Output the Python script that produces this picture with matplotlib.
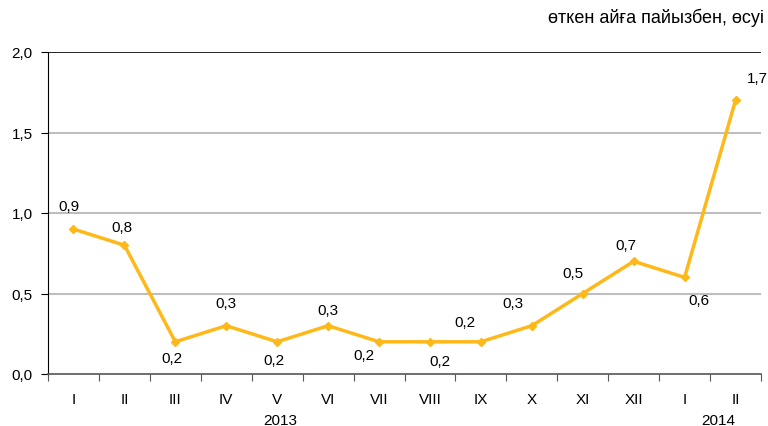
import numpy as np
import matplotlib.pyplot as plt

plt.rcParams['font.family'] = ['Liberation Sans', 'DejaVu Sans']

months = ["I", "II", "III", "IV", "V", "VI", "VII", "VIII", "IX", "X", "XI", "XII", "I", "II"]
values = [0.9, 0.8, 0.2, 0.3, 0.2, 0.3, 0.2, 0.2, 0.2, 0.3, 0.5, 0.7, 0.6, 1.7]
labels = ["0,9", "0,8", "0,2", "0,3", "0,2", "0,3", "0,2", "0,2", "0,2", "0,3", "0,5", "0,7", "0,6", "1,7"]
# label offsets in pixels (dx, dy) from the point
offsets = [(-5, 23), (-2, 18), (-3, -16), (0, 23), (-3, -18), (0, 16), (-15, -13), (10, -19),
           (-16, 20), (-19, 23), (-10, 20), (-8, 16), (14, -23), (22, 22)]
color = "#FFB819"

fig = plt.figure(figsize=(7.68, 4.27), dpi=100)
ax = fig.add_axes([48 / 768, 1 - 375 / 427, 713 / 768, 322 / 427])

x = np.arange(len(months))
ax.plot(x, values, color=color, lw=2.5, marker="D", ms=4.5, zorder=3)

for xi, v, lab, (dx, dy) in zip(x, values, labels, offsets):
    ax.annotate(lab, (xi, v), xytext=(dx * 0.72, dy * 0.72), textcoords="offset points",
                ha="center", va="center", fontsize=11, color="#000000")

ax.set_xlim(-0.5, len(months) - 0.5)
ax.set_ylim(0, 2.0)
ax.set_yticks([0, 0.5, 1.0, 1.5, 2.0])
ax.set_yticklabels(["0,0", "0,5", "1,0", "1,5", "2,0"], fontsize=11)
for yv in [0.5, 1.0, 1.5]:
    ax.axhline(yv, color="#BEBEBE", lw=1.5, zorder=1)
ax.axhline(2.0, color="#000000", lw=1.2, zorder=1)

ax.set_xticks(np.arange(-0.5, len(months), 1.0))
ax.set_xticklabels([])
ax.set_xticks(x, minor=True)
ax.set_xticklabels(months, minor=True, fontsize=11)
ax.tick_params(axis="x", which="major", length=5, direction="out", color="#555555")
ax.tick_params(axis="x", which="minor", length=0, pad=13)
ax.tick_params(axis="y", length=5, direction="out", pad=6)

for s in ["top", "right"]:
    ax.spines[s].set_visible(False)
ax.spines["left"].set_color("#000000")
ax.spines["bottom"].set_color("#555555")
ax.spines["bottom"].set_linewidth(1.2)

fig.text(280 / 768, 1 - 421 / 427, "2013", ha="center", va="center", fontsize=11)
fig.text(718 / 768, 1 - 421 / 427, "2014", ha="center", va="center", fontsize=11)
fig.text(764 / 768, 1 - 18 / 427, "өткен айға пайызбен, өсуі", ha="right", va="center", fontsize=13)

fig.savefig("out.png", dpi=100)
